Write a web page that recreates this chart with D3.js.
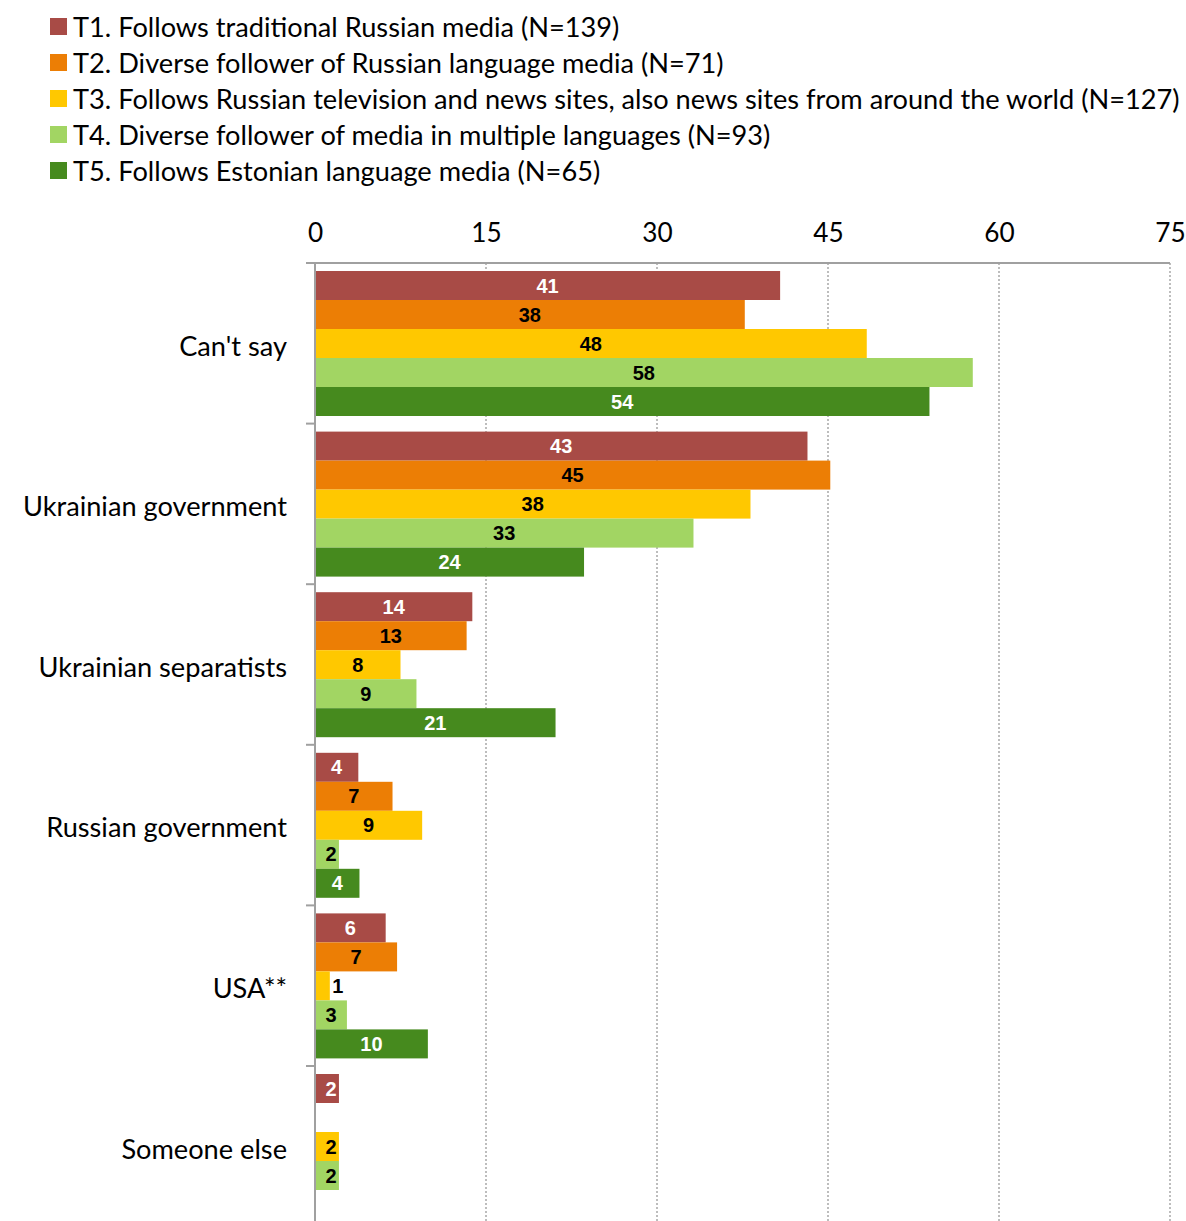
<!DOCTYPE html>
<html><head><meta charset="utf-8">
<script src="https://cdn.jsdelivr.net/npm/d3@7"></script>
<style>body{margin:0;background:#fff}svg{display:block}</style>
</head><body>
<svg id="chart" width="1186" height="1221"></svg>
<script>
const categories = ["Can't say","Ukrainian government","Ukrainian separatists","Russian government","USA**","Someone else"];
const seriesNames = [
  "T1. Follows traditional Russian media (N=139)",
  "T2. Diverse follower of Russian language media (N=71)",
  "T3. Follows Russian television and news sites, also news sites from around the world (N=127)",
  "T4. Diverse follower of media in multiple languages (N=93)",
  "T5. Follows Estonian language media (N=65)"
];
const T1 = [40.8, 43.2, 13.8, 3.8, 6.2, 2.1];
const T2 = [37.7, 45.2, 13.3, 6.8, 7.2, 0];
const T3 = [48.4, 38.2, 7.5, 9.4, 1.3, 2.1];
const T4 = [57.7, 33.2, 8.9, 2.1, 2.8, 2.1];
const T5 = [53.9, 23.6, 21.1, 3.9, 9.9, 0];
const tickValues = [0, 15, 30, 45, 60, 75];
const colors = ["#A84B46", "#EC7E05", "#FFC800", "#A2D563", "#468A1E"];
const labelColors = ["#fff", "#000", "#000", "#000", "#fff"];

const series = [T1, T2, T3, T4, T5];
const svg = d3.select("#chart");
const font = "Lato, 'Open Sans', sans-serif";

// Legend
const leg = svg.append("g");
seriesNames.forEach((n, i) => {
  const g = leg.append("g").attr("transform", `translate(50,${27 + i * 36})`);
  g.append("rect").attr("x", 0).attr("y", -9).attr("width", 17).attr("height", 17).attr("fill", colors[i]);
  g.append("text").attr("x", 23).attr("y", 0).attr("dy", "0.35em")
    .attr("font-family", font).attr("font-size", 24).attr("fill", "#000").text(n);
});
const longest = leg.selectAll("text").nodes()[2];
const w = longest.getComputedTextLength();
const fs = 24 * (1180 - 73) / w;
leg.selectAll("text").attr("font-size", fs);

const x0 = 315, x1 = 1170, yTop = 263, band = 160.6;
const x = d3.scaleLinear().domain([0, 75]).range([x0, x1]);
const y = d3.scaleBand().domain(categories).range([yTop, yTop + band * categories.length]).paddingInner(0).paddingOuter(0);
const yi = d3.scaleBand().domain(d3.range(5)).range([8, band - 7.6]);

// gridlines
svg.append("g").selectAll("line").data(tickValues.filter(d => d > 0)).join("line")
  .attr("x1", d => x(d)).attr("x2", d => x(d)).attr("y1", yTop).attr("y2", 1221)
  .attr("stroke", "#9a9a9a").attr("stroke-width", 1.3).attr("stroke-dasharray", "2,2");

// top axis
const xAxis = svg.append("g").attr("transform", `translate(0,${yTop})`)
  .call(d3.axisTop(x).tickValues(tickValues).tickSize(0).tickPadding(21));
xAxis.select(".domain").remove();
xAxis.selectAll("text").attr("font-family", font).attr("font-size", fs - 1).attr("fill", "#000");
svg.append("line").attr("x1", 306).attr("x2", x1).attr("y1", yTop).attr("y2", yTop)
  .attr("stroke", "#a0a0a0").attr("stroke-width", 2);

// bars
const groups = svg.append("g").selectAll("g").data(categories).join("g")
  .attr("transform", d => `translate(0,${y(d)})`);
groups.each(function(cat, ci) {
  const g = d3.select(this);
  series.forEach((s, si) => {
    const v = s[ci];
    if (v <= 0) return;
    g.append("rect").attr("x", x(0)).attr("y", yi(si)).attr("width", x(v) - x(0)).attr("height", yi.bandwidth())
      .attr("fill", colors[si]);
    const wpx = x(v) - x(0);
    const cx = wpx < 20 ? x(v) + 8 : Math.max((x(0) + x(v)) / 2, x(0) + 16);
    const col = wpx < 20 ? "#000" : labelColors[si];
    g.append("text").attr("x", cx).attr("y", yi(si) + yi.bandwidth() / 2).attr("dy", "0.36em")
      .attr("text-anchor", "middle").attr("font-family", "'Liberation Sans', Arial, sans-serif")
      .attr("font-weight", "bold").attr("font-size", 20).attr("fill", col).text(Math.round(v));
  });
});

// left axis
const yAxis = svg.append("g").attr("transform", `translate(${x0},0)`)
  .call(d3.axisLeft(y).tickSize(0).tickPadding(28));
yAxis.select(".domain").remove();
yAxis.selectAll("text").attr("font-family", font).attr("font-size", fs).attr("fill", "#000").attr("dy", "0.45em");
svg.append("line").attr("x1", x0).attr("x2", x0).attr("y1", yTop).attr("y2", 1221)
  .attr("stroke", "#a0a0a0").attr("stroke-width", 2);
svg.append("g").selectAll("line").data(d3.range(categories.length + 1)).join("line")
  .attr("x1", 306).attr("x2", x0).attr("y1", d => yTop + d * band).attr("y2", d => yTop + d * band)
  .attr("stroke", "#a0a0a0").attr("stroke-width", 2);
</script>
</body></html>
